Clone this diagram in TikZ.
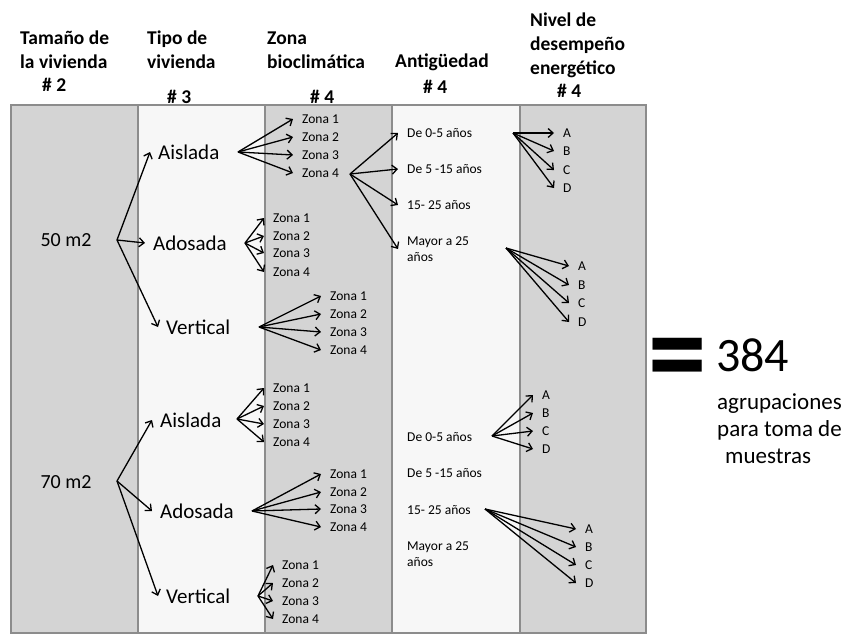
\documentclass[tikz,border=0pt]{standalone}
\usepackage{fontspec}
\usepackage{graphicx}
\setmainfont{Carlito}
\usetikzlibrary{arrows.meta}

\definecolor{colgray}{HTML}{D4D4D4}
\definecolor{collight}{HTML}{F7F7F7}
\definecolor{colline}{HTML}{8C8C8C}

\begin{document}
\begin{tikzpicture}
	[x=1pt, y=-1pt,
	darkcol/.style={fill=colgray,draw=colline,line width=2pt},
	lightcol/.style={fill=collight,draw=colline,line width=2pt},
	head/.style={anchor=west,align=left,inner sep=0pt,font=\fontsize{19.5}{24}\selectfont\bfseries},
	size/.style={inner sep=0pt,font=\fontsize{20}{24}\selectfont},
	kind/.style={anchor=west,inner sep=0pt,inner xsep=8pt,font=\fontsize{21}{24}\selectfont},
	small/.style={anchor=west,inner sep=0pt,inner xsep=9pt,align=left,font=\fontsize{13.5}{16.5}\selectfont},
	fan/.style={line width=1.3pt,-{Straight Barb[length=5pt,width=9pt]}}]
	\useasboundingbox (0,0) rectangle (847,635);
	\draw [darkcol] (11,105) rectangle (138,633);
	\draw [lightcol] (138,105) rectangle (265,633);
	\draw [darkcol] (265,105) rectangle (392,633);
	\draw [lightcol] (392,105) rectangle (520,633);
	\draw [darkcol] (520,105) rectangle (646,633);
	\node (h1) at (20,50) [head] {Tamaño de\\la vivienda};
	\node (n1) at (42,85) [head] {\# 2};
	\node (h2) at (147,50) [head] {Tipo de\\vivienda};
	\node (n2) at (167,97) [head] {\# 3};
	\node (h3) at (267,50) [head] {Zona\\bioclimática};
	\node (n3) at (310,97) [head] {\# 4};
	\node (h4) at (395,62) [head] {Antigüedad};
	\node (n4) at (423,87) [head] {\# 4};
	\node (h5) at (530,45) [head] {Nivel de\\desempeño\\energético};
	\node (n5) at (557,91) [head] {\# 4};
	\node (s50) at (66,240) [size] {50 m2};
	\node (s70) at (66,482) [size] {70 m2};
	\coordinate (s50o) at (117,240);
	\coordinate (s70o) at (117,481);
	\node (ais50) at (150,152) [kind] {Aislada};
	\node (ado50) at (145,243) [kind] {Adosada};
	\node (ver50) at (158,327) [kind] {Vertical};
	\node (ais70) at (152,420) [kind] {Aislada};
	\node (ado70) at (152,511) [kind] {Adosada};
	\node (ver70) at (158,596) [kind] {Vertical};
	\coordinate (ais50o) at (238,152);
	\coordinate (ado50o) at (245,243);
	\coordinate (ver50o) at (259,327);
	\coordinate (ais70o) at (237,419);
	\coordinate (ado70o) at (252,511);
	\coordinate (ver70o) at (258,596);
	\node (ais50z1) at (293,119) [small] {Zona 1};
	\node (ais50z2) at (293,137) [small] {Zona 2};
	\node (ais50z3) at (293,155) [small] {Zona 3};
	\node (ais50z4) at (293,173) [small] {Zona 4};
	\node (ado50z1) at (264,218) [small] {Zona 1};
	\node (ado50z2) at (264,236) [small] {Zona 2};
	\node (ado50z3) at (264,253) [small] {Zona 3};
	\node (ado50z4) at (264,272) [small] {Zona 4};
	\node (ver50z1) at (321,296) [small] {Zona 1};
	\node (ver50z2) at (321,314) [small] {Zona 2};
	\node (ver50z3) at (321,332) [small] {Zona 3};
	\node (ver50z4) at (321,350) [small] {Zona 4};
	\node (ais70z1) at (264,388) [small] {Zona 1};
	\node (ais70z2) at (264,406) [small] {Zona 2};
	\node (ais70z3) at (264,424) [small] {Zona 3};
	\node (ais70z4) at (264,442) [small] {Zona 4};
	\node (ado70z1) at (321,474) [small] {Zona 1};
	\node (ado70z2) at (321,492) [small] {Zona 2};
	\node (ado70z3) at (321,509) [small] {Zona 3};
	\node (ado70z4) at (321,527) [small] {Zona 4};
	\node (ver70z1) at (273,565) [small] {Zona 1};
	\node (ver70z2) at (273,583) [small] {Zona 2};
	\node (ver70z3) at (273,601) [small] {Zona 3};
	\node (ver70z4) at (273,619) [small] {Zona 4};
	\coordinate (zona4o) at (350,174);
	\node (ageA1) at (398,133) [small] {De 0-5 años};
	\node (ageA2) at (398,169) [small] {De 5 -15 años};
	\node (ageA3) at (398,205) [small] {15- 25 años};
	\node (ageA4) at (398,249) [small] {Mayor a 25\\años};
	\node (ageB1) at (398,437) [small] {De 0-5 años};
	\node (ageB2) at (398,473) [small] {De 5 -15 años};
	\node (ageB3) at (398,510) [small] {15- 25 años};
	\node (ageB4) at (398,554) [small] {Mayor a 25\\años};
	\coordinate (ageA1o) at (513,133);
	\coordinate (ageA4o) at (506,248);
	\coordinate (ageB1o) at (492,436);
	\coordinate (ageB3o) at (485,509);
	\node (lvA1a) at (554,133) [small] {A};
	\node (lvA1b) at (554,151) [small] {B};
	\node (lvA1c) at (554,170) [small] {C};
	\node (lvA1d) at (554,188) [small] {D};
	\node (lvA4a) at (569,266) [small] {A};
	\node (lvA4b) at (569,285) [small] {B};
	\node (lvA4c) at (569,303) [small] {C};
	\node (lvA4d) at (569,322) [small] {D};
	\node (lvB1a) at (533,395) [small] {A};
	\node (lvB1b) at (533,413) [small] {B};
	\node (lvB1c) at (533,431) [small] {C};
	\node (lvB1d) at (533,449) [small] {D};
	\node (lvB3a) at (576,529) [small] {A};
	\node (lvB3b) at (576,547) [small] {B};
	\node (lvB3c) at (576,565) [small] {C};
	\node (lvB3d) at (576,583) [small] {D};
	\node (eq) at (678,367) [inner sep=0pt,font=\fontsize{90}{90}\selectfont\bfseries] {\scalebox{1.3}[1.45]{=}};
	\node (total) at (716,355) [anchor=west,inner sep=0pt,font=\fontsize{48}{48}\selectfont] {384};
	\node (note) at (717,429) [anchor=west,align=left,inner sep=0pt,font=\fontsize{23}{27}\selectfont] {agrupaciones\\para toma de\\\hspace*{8pt}muestras};
	\draw [fan] (s50o) to (ais50.west);
	\draw [fan] (s50o) to (ado50.west);
	\draw [fan] (s50o) to (ver50.west);
	\draw [fan] (s70o) to (ais70.west);
	\draw [fan] (s70o) to (ado70.west);
	\draw [fan] (s70o) to (ver70.west);
	\draw [fan] (ais50o) to (ais50z1.west);
	\draw [fan] (ais50o) to (ais50z2.west);
	\draw [fan] (ais50o) to (ais50z3.west);
	\draw [fan] (ais50o) to (ais50z4.west);
	\draw [fan] (ado50o) to (ado50z1.west);
	\draw [fan] (ado50o) to (ado50z2.west);
	\draw [fan] (ado50o) to (ado50z3.west);
	\draw [fan] (ado50o) to (ado50z4.west);
	\draw [fan] (ver50o) to (ver50z1.west);
	\draw [fan] (ver50o) to (ver50z2.west);
	\draw [fan] (ver50o) to (ver50z3.west);
	\draw [fan] (ver50o) to (ver50z4.west);
	\draw [fan] (ais70o) to (ais70z1.west);
	\draw [fan] (ais70o) to (ais70z2.west);
	\draw [fan] (ais70o) to (ais70z3.west);
	\draw [fan] (ais70o) to (ais70z4.west);
	\draw [fan] (ado70o) to (ado70z1.west);
	\draw [fan] (ado70o) to (ado70z2.west);
	\draw [fan] (ado70o) to (ado70z3.west);
	\draw [fan] (ado70o) to (ado70z4.west);
	\draw [fan] (ver70o) to (ver70z1.west);
	\draw [fan] (ver70o) to (ver70z2.west);
	\draw [fan] (ver70o) to (ver70z3.west);
	\draw [fan] (ver70o) to (ver70z4.west);
	\draw [fan] (zona4o) to (ageA1.west);
	\draw [fan] (zona4o) to (ageA2.west);
	\draw [fan] (zona4o) to (ageA3.west);
	\draw [fan] (zona4o) to (ageA4.west);
	\draw [fan] (ageA1o) to (lvA1a.west);
	\draw [fan] (ageA1o) to (lvA1b.west);
	\draw [fan] (ageA1o) to (lvA1c.west);
	\draw [fan] (ageA1o) to (lvA1d.west);
	\draw [fan] (ageA4o) to (lvA4a.west);
	\draw [fan] (ageA4o) to (lvA4b.west);
	\draw [fan] (ageA4o) to (lvA4c.west);
	\draw [fan] (ageA4o) to (lvA4d.west);
	\draw [fan] (ageB1o) to (lvB1a.west);
	\draw [fan] (ageB1o) to (lvB1b.west);
	\draw [fan] (ageB1o) to (lvB1c.west);
	\draw [fan] (ageB1o) to (lvB1d.west);
	\draw [fan] (ageB3o) to (lvB3a.west);
	\draw [fan] (ageB3o) to (lvB3b.west);
	\draw [fan] (ageB3o) to (lvB3c.west);
	\draw [fan] (ageB3o) to (lvB3d.west);
\end{tikzpicture}
\end{document}
